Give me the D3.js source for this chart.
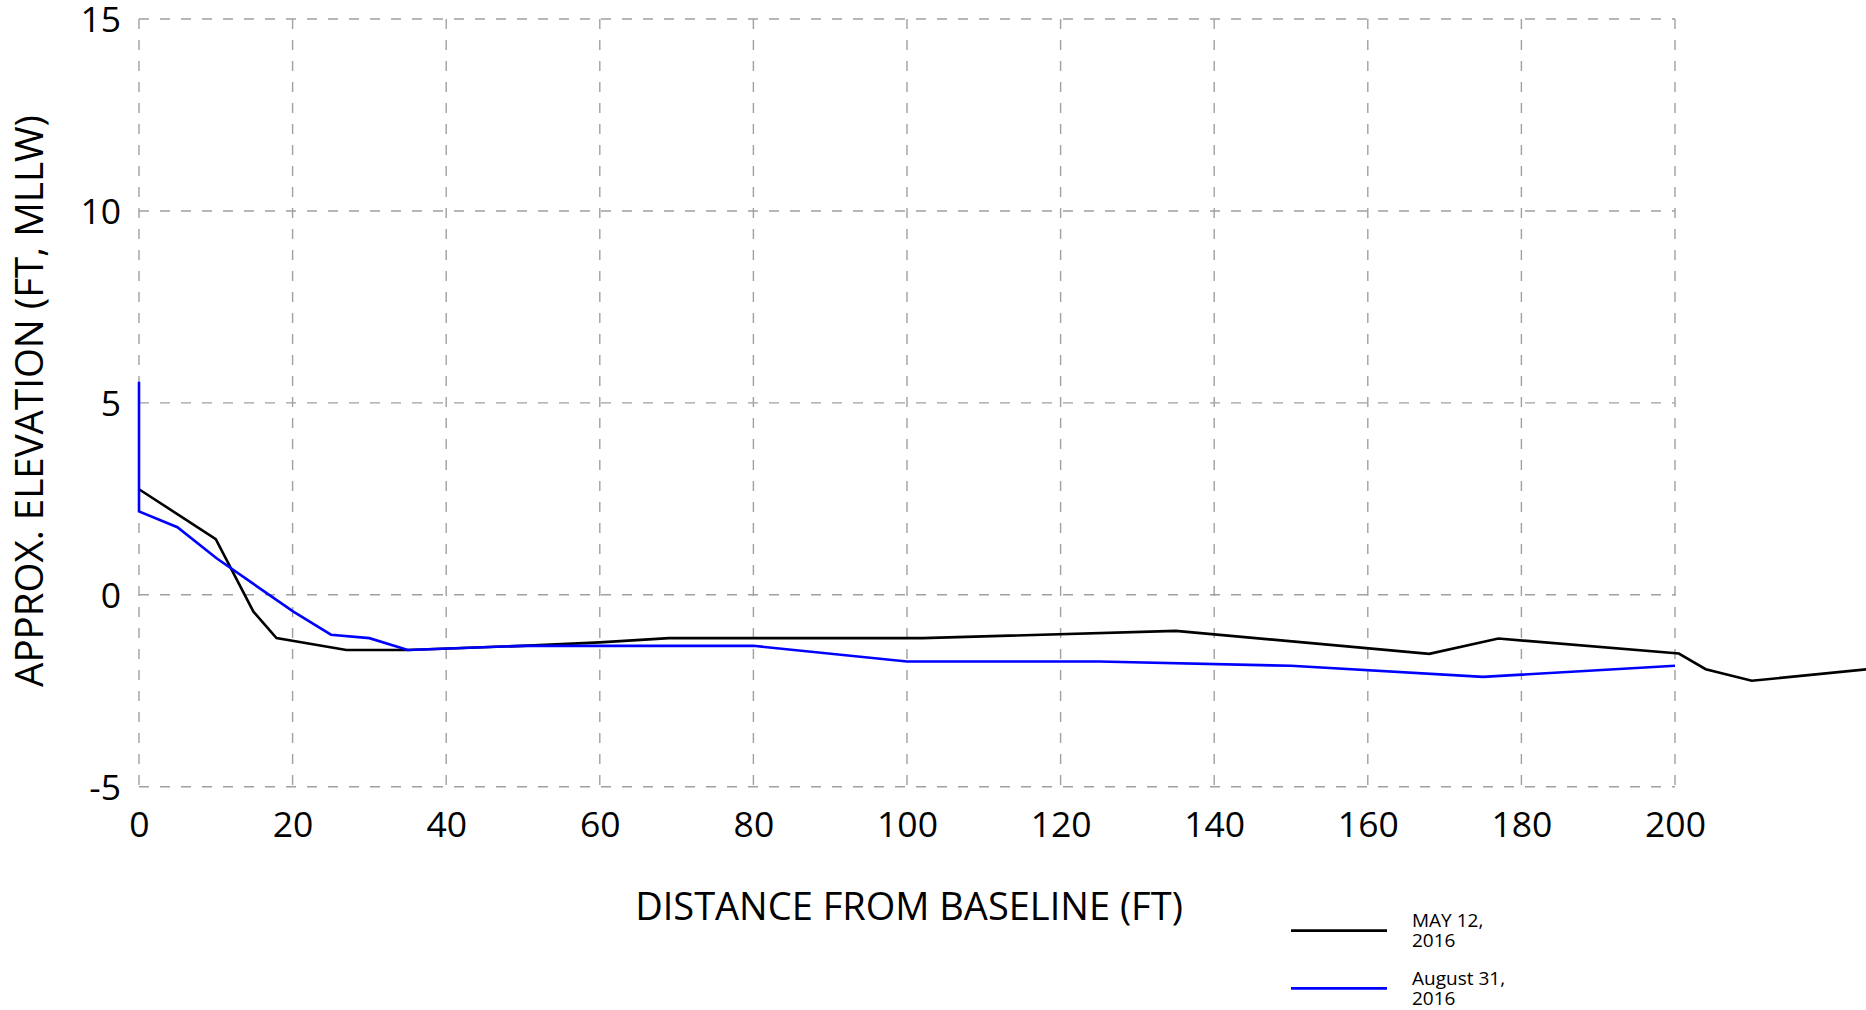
<!DOCTYPE html>
<html>
<head>
<meta charset="utf-8">
<script src="https://cdn.jsdelivr.net/npm/d3@7"></script>
<style>
  html, body { margin: 0; padding: 0; background: #fff; }
  svg { display: block; font-family: "Open Sans", sans-serif; }
</style>
</head>
<body>
<svg id="chart" width="1866" height="1010"></svg>
<script>
// ---- data ----
const xTicks = [0, 20, 40, 60, 80, 100, 120, 140, 160, 180, 200];
const yTicks = [-5, 0, 5, 10, 15];
const seriesNames = ["MAY 12, 2016", "August 31, 2016"];
const seriesColors = ["#000000", "#0000ff"];
const may12Dist = [0, 10, 14.9, 17.9, 27, 35, 50, 60, 69, 102, 135, 168, 177, 200.5, 204, 210, 225];
const may12Elev = [2.75, 1.45, -0.44, -1.13, -1.44, -1.44, -1.33, -1.24, -1.13, -1.13, -0.94, -1.54, -1.14, -1.53, -1.94, -2.24, -1.94];
const aug31Dist = [0, 0, 5, 10.1, 20.1, 25, 30, 35, 50, 80, 100, 125, 150, 175, 200];
const aug31Elev = [5.55, 2.17, 1.76, 0.95, -0.44, -1.04, -1.13, -1.44, -1.33, -1.33, -1.74, -1.74, -1.85, -2.14, -1.85];
const xTitle = "DISTANCE FROM BASELINE (FT)";
const yTitle = "APPROX. ELEVATION (FT, MLLW)";

// ---- layout ----
const svg = d3.select("#chart");
const x = d3.scaleLinear().domain([0, 200]).range([139, 1675]);
const y = d3.scaleLinear().domain([-5, 15]).range([786.7, 19]);

// grid
const grid = svg.append("g").attr("stroke", "#a0a0a0").attr("stroke-width", 1.4)
  .attr("stroke-dasharray", "10,11").attr("fill", "none");
grid.selectAll("line.v").data(xTicks).join("line").attr("class", "v")
  .attr("x1", d => x(d)).attr("x2", d => x(d))
  .attr("y1", y(15)).attr("y2", y(-5));
grid.selectAll("line.h").data(yTicks).join("line").attr("class", "h")
  .attr("y1", d => y(d)).attr("y2", d => y(d))
  .attr("x1", x(0)).attr("x2", x(200));

// axes (labels only, via d3 axis)
const fmt = d => String(d);
const xAxis = d3.axisBottom(x).tickValues(xTicks).tickFormat(fmt).tickSize(0).tickPadding(0);
const gx = svg.append("g").attr("transform", "translate(0,812)").call(xAxis);
gx.select(".domain").remove();
gx.selectAll("text").attr("font-size", 35.5).attr("fill", "#000")
  .attr("font-family", "Open Sans").attr("dy", "0.71em").attr("y", 0);

const yAxis = d3.axisLeft(y).tickValues(yTicks).tickFormat(fmt).tickSize(0).tickPadding(0);
const gy = svg.append("g").attr("transform", "translate(121,0)").call(yAxis);
gy.select(".domain").remove();
gy.selectAll("text").attr("font-size", 35.5).attr("fill", "#000")
  .attr("font-family", "Open Sans").attr("dy", "0.36em");

// titles
svg.append("text").attr("x", 909).attr("y", 920).attr("text-anchor", "middle")
  .attr("font-size", 38).attr("fill", "#000").text(xTitle);
svg.append("text").attr("transform", "translate(43,401) rotate(-90)")
  .attr("text-anchor", "middle").attr("font-size", 38.5).attr("fill", "#000").text(yTitle);

// lines
const line = d3.line().x(d => x(d[0])).y(d => y(d[1]));
const series = [
  d3.zip(may12Dist, may12Elev),
  d3.zip(aug31Dist, aug31Elev)
];
svg.append("g").selectAll("path").data(series).join("path")
  .attr("d", line).attr("fill", "none")
  .attr("stroke", (d, i) => seriesColors[i]).attr("stroke-width", 2.6)
  .attr("stroke-linejoin", "miter");

// legend
const legendY = [930.7, 988.3];
const lg = svg.append("g");
seriesNames.forEach((name, i) => {
  lg.append("line").attr("x1", 1291).attr("x2", 1387)
    .attr("y1", legendY[i]).attr("y2", legendY[i])
    .attr("stroke", seriesColors[i]).attr("stroke-width", 2.7);
  const parts = name.split(", ");
  const t = lg.append("text").attr("x", 1412).attr("y", legendY[i] - 3.5)
    .attr("font-size", 19).attr("fill", "#000");
  t.append("tspan").attr("x", 1412).text(parts[0] + ",");
  t.append("tspan").attr("x", 1412).attr("dy", 20).text(parts[1]);
});
</script>
</body>
</html>
